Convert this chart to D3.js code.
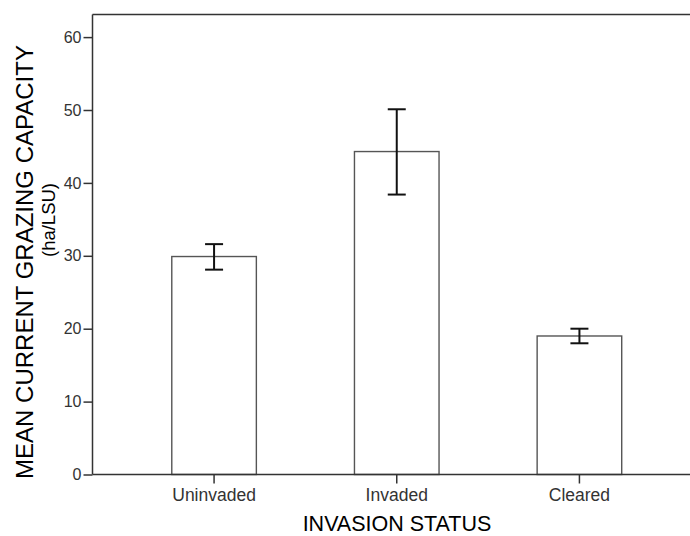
<!DOCTYPE html>
<html><head><meta charset="utf-8">
<script src="https://cdn.jsdelivr.net/npm/d3@7"></script>
<style>html,body{margin:0;padding:0;background:#fff;overflow:hidden}svg{display:block}</style>
</head><body>
<svg id="c" width="690" height="536"></svg>
<script>
const categories = ["Uninvaded", "Invaded", "Cleared"];
const means = [29.9, 44.3, 19.0];
const errLow = [28.1, 38.4, 18.0];
const errHigh = [31.6, 50.1, 20.0];
const yTicks = [0, 10, 20, 30, 40, 50, 60];
const yMax = 63.1;

(function () {
const svg = d3.select("#c");
const pLeft = 92.5, pRight = 701, pTop = 14.5, pBottom = 474.5;
const font = "Liberation Sans, Arial, sans-serif";

const x = d3.scaleBand().domain(categories).range([pLeft, pRight])
  .paddingInner(0.537).paddingOuter(0.434);
const y = d3.scaleLinear().domain([0, yMax]).range([pBottom, pTop]);

// bars
svg.selectAll("rect.bar").data(categories).join("rect")
  .attr("class", "bar")
  .attr("x", d => x(d)).attr("width", x.bandwidth())
  .attr("y", (d, i) => y(means[i])).attr("height", (d, i) => pBottom - y(means[i]))
  .attr("fill", "#fff").attr("stroke", "#555").attr("stroke-width", 1.4);

// error bars
const cap = 9;
const eg = svg.append("g").attr("stroke", "#111").attr("stroke-width", 2);
categories.forEach((d, i) => {
  const cx = x(d) + x.bandwidth() / 2;
  eg.append("line").attr("x1", cx).attr("x2", cx).attr("y1", y(errLow[i])).attr("y2", y(errHigh[i]));
  eg.append("line").attr("x1", cx - cap).attr("x2", cx + cap).attr("y1", y(errLow[i])).attr("y2", y(errLow[i]));
  eg.append("line").attr("x1", cx - cap).attr("x2", cx + cap).attr("y1", y(errHigh[i])).attr("y2", y(errHigh[i]));
});

// top frame line
svg.append("line").attr("x1", pLeft).attr("x2", 720).attr("y1", pTop).attr("y2", pTop).attr("stroke", "#333").attr("stroke-width", 1.5);

// y axis
const ya = svg.append("g").attr("transform", `translate(${pLeft},0)`)
  .call(d3.axisLeft(y).tickValues(yTicks).tickSize(9).tickPadding(2).tickSizeOuter(0));
ya.select(".domain").attr("stroke", "#333").attr("stroke-width", 1.5)
  .attr("d", `M0,${pBottom}V${pTop}`);
ya.selectAll(".tick line").attr("stroke", "#333").attr("stroke-width", 1.5);
ya.selectAll(".tick text").attr("font-family", font).attr("font-size", 16).attr("fill", "#333");

// x axis
const xa = svg.append("g").attr("transform", `translate(0,${pBottom})`)
  .call(d3.axisBottom(x).tickSize(9).tickPadding(5).tickSizeOuter(0));
xa.select(".domain").attr("stroke", "#333").attr("stroke-width", 1.5)
  .attr("d", `M${pLeft},0H720`);
xa.selectAll(".tick line").attr("stroke", "#333").attr("stroke-width", 1.5);
xa.selectAll(".tick text").attr("font-family", font).attr("font-size", 17.5).attr("fill", "#333");

// titles
svg.append("text").attr("x", 397).attr("y", 531).attr("text-anchor", "middle")
  .attr("font-family", font).attr("font-size", 21.5).attr("fill", "#000").text("INVASION STATUS");
svg.append("text").attr("transform", "translate(33,262) rotate(-90)").attr("text-anchor", "middle")
  .attr("font-family", font).attr("font-size", 24).attr("fill", "#000").text("MEAN CURRENT GRAZING CAPACITY");
svg.append("text").attr("transform", "translate(55,220) rotate(-90)").attr("text-anchor", "middle")
  .attr("font-family", font).attr("font-size", 18.5).attr("fill", "#000").text("(ha/LSU)");
})();
</script>
</body></html>
